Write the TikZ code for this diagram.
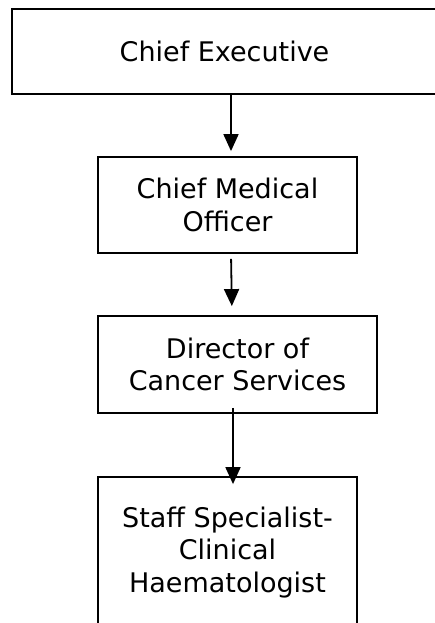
\documentclass[tikz,border=0pt]{standalone}
\usepackage{fontspec}
\setmainfont{DejaVu Sans}
\usetikzlibrary{arrows.meta}
\tikzset{post/.style={draw,line width=1.8pt,align=center,font=\fontsize{27}{32.5}\selectfont},
  link/.style={line width=1.8pt,-{Triangle[length=17pt,width=15pt]}}}
\begin{document}
\begin{tikzpicture}[x=1pt,y=-1pt]
\useasboundingbox (0,0) rectangle (435,623);
\clip (0,0) rectangle (435,623);
\node[post,minimum width=425pt,minimum height=85pt] (ceo) at (224.5,51.5) {Chief Executive};
\node[post,minimum width=259pt,minimum height=96pt] (cmo) at (227.5,205) {Chief Medical\\Officer};
\node[post,minimum width=279pt,minimum height=97pt] (dcs) at (237.5,364.5) {Director of\\Cancer Services};
\node[post,minimum width=259pt,minimum height=151pt] (ssh) at (227.5,552.5) {Staff Specialist-\\Clinical\\Haematologist};
\draw[link,shorten >=5pt] ([xshift=6.5pt]ceo.south) -- ([xshift=3.5pt]cmo.north);
\draw[link,shorten <=5pt,shorten >=9pt] ([xshift=3.5pt]cmo.south) -- ([xshift=-5.5pt]dcs.north);
\draw[link,shorten <=-6pt,shorten >=-8pt] ([xshift=-4.5pt]dcs.south) -- ([xshift=5.5pt]ssh.north);
\end{tikzpicture}
\end{document}
